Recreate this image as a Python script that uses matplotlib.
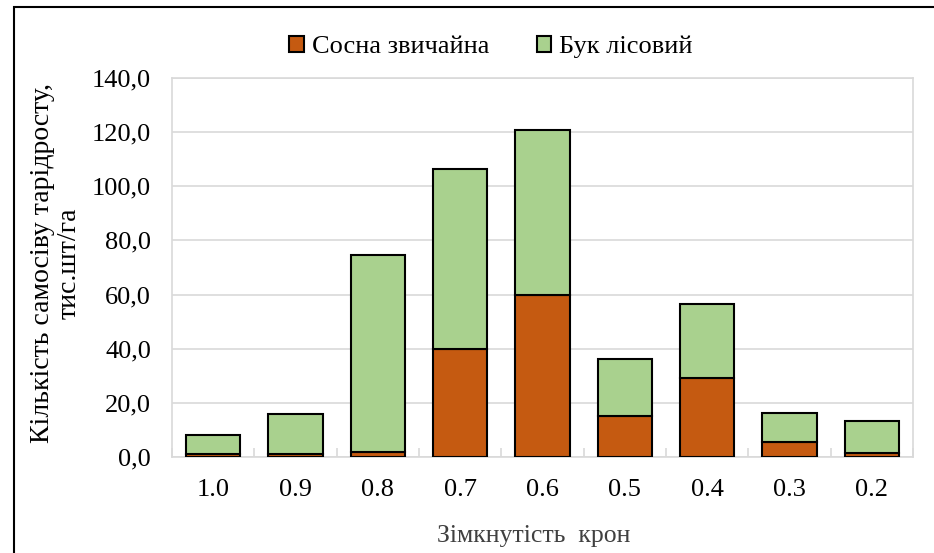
import numpy as np
import matplotlib.pyplot as plt
from matplotlib.patches import Rectangle

categories = ['1.0', '0.9', '0.8', '0.7', '0.6', '0.5', '0.4', '0.3', '0.2']
pine = [1.0, 1.0, 2.0, 40.0, 60.0, 15.2, 29.3, 5.6, 1.6]
beech_total = [8.3, 15.8, 74.7, 106.5, 120.8, 36.3, 56.5, 16.3, 13.4]
beech = [t - p for t, p in zip(beech_total, pine)]

plt.rcParams['font.family'] = ['Liberation Serif', 'DejaVu Serif']

W, H = 934, 553
fig = plt.figure(figsize=(W / 100, H / 100), dpi=100)
ax = fig.add_axes([172 / W, 1 - 457 / H, (913 - 172) / W, (457 - 78) / H])

x = np.arange(len(categories))
w = 0.66
ax.bar(x, pine, w, color='#C55A11', edgecolor='black', linewidth=1.5,
       label='Сосна звичайна', zorder=3)
ax.bar(x, beech, w, bottom=pine, color='#A9D18E', edgecolor='black',
       linewidth=1.5, label='Бук лісовий', zorder=3)

ax.set_xlim(-0.5, len(categories) - 0.5)
ax.set_ylim(0, 140)
ax.set_yticks(np.arange(0, 141, 20))
ax.set_yticklabels([f'{v:.1f}'.replace('.', ',') for v in range(0, 141, 20)])
ax.set_xticks(x)
ax.set_xticklabels(categories)
ax.tick_params(axis='y', labelsize=19, length=0, pad=15)
ax.tick_params(axis='x', labelsize=19, length=0, pad=16)
ax.set_xticks(np.arange(-0.5, len(categories)), minor=True)
ax.tick_params(axis='x', which='minor', length=6.5, direction='in',
               color='#D9D9D9', width=1.2)
ax.grid(axis='y', color='#D9D9D9', linewidth=1.2, zorder=0)
for s in ax.spines.values():
    s.set_color('#D9D9D9')
    s.set_linewidth(1.2)

fig.text(534 / W, 1 - 536 / H, 'Зімкнутість  крон', fontsize=18.5,
         color='#404040', ha='center', va='center')
fig.text(56 / W, 1 - 263 / H, 'Кількість самосіву тарідросту,\nтис.шт/га',
         fontsize=20, rotation=90, ha='center', va='center',
         multialignment='center', linespacing=1.1)

ax.legend(loc='center', bbox_to_anchor=((491 - 172) / 741, (457 - 47) / 379),
          ncol=2, frameon=False, fontsize=19, handlelength=0.55,
          handleheight=0.55, handletextpad=0.3, columnspacing=1.8)

fig.patches.append(Rectangle((14 / W, -0.1), 2, 1 - 7 / H + 0.1,
                             transform=fig.transFigure, fill=False,
                             edgecolor='black', linewidth=1.5))

fig.savefig('out.png', dpi=100)
